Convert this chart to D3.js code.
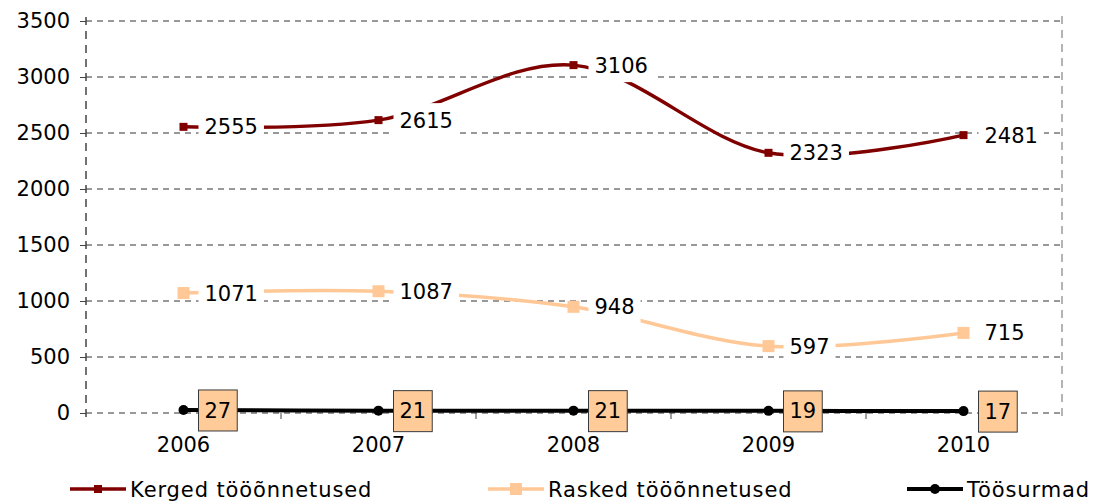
<!DOCTYPE html>
<html>
<head>
<meta charset="utf-8">
<script src="https://cdn.jsdelivr.net/npm/d3@7"></script>
<style>
    body { margin: 0; background: #fff; }
    svg text { font-family: "DejaVu Sans", Verdana, sans-serif; fill: #000; }
</style>
</head>
<body>
<svg id="chart" width="1097" height="501" viewBox="0 0 1097 501"></svg>
<script>
// Data
const years = ["2006", "2007", "2008", "2009", "2010"];
const kerged = [2555, 2615, 3106, 2323, 2481];
const rasked = [1071, 1087, 948, 597, 715];
const toosurmad = [27, 21, 21, 19, 17];
const yTicks = [0, 500, 1000, 1500, 2000, 2500, 3000, 3500];
const seriesNames = ["Kerged tööõnnetused", "Rasked tööõnnetused", "Töösurmad"];

const svg = d3.select("#chart");

const plotLeft = 86, plotRight = 1061, plotTop = 21, plotBottom = 413;
const fontSize = 21;

const x = d3.scaleBand().domain(years).range([plotLeft, plotRight]);
const y = d3.scaleLinear().domain([0, 3500]).range([plotBottom, plotTop]);
const cx = d => x(d) + x.bandwidth() / 2;

// Gridlines
svg.append("g").selectAll("line")
    .data(yTicks)
    .enter()
    .append("line")
    .attr("x1", plotLeft)
    .attr("x2", plotRight)
    .attr("y1", d => y(d))
    .attr("y2", d => y(d))
    .attr("stroke", "#333")
    .attr("stroke-width", 1)
    .attr("stroke-dasharray", "6,5");

// Right border (grey dashed)
svg.append("line")
    .attr("x1", plotRight + 1).attr("x2", plotRight + 1)
    .attr("y1", plotTop - 5).attr("y2", plotBottom + 5)
    .attr("stroke", "#b4b4b4")
    .attr("stroke-width", 2)
    .attr("stroke-dasharray", "8,6");

// Y axis
const yAxis = svg.append("g")
    .attr("transform", "translate(" + plotLeft + ",0)")
    .call(d3.axisLeft(y).tickValues(yTicks).tickSize(6).tickPadding(10).tickFormat(d3.format("d")));
yAxis.select(".domain")
    .attr("d", "M0," + (plotTop - 4) + "V" + (plotBottom + 6))
    .attr("stroke", "#444")
    .attr("stroke-width", 1.5)
    .attr("stroke-dasharray", "8,6");
yAxis.selectAll(".tick line").attr("stroke", "#444");
yAxis.selectAll("text")
    .style("font-size", fontSize + "px")
    .style("font-family", "DejaVu Sans, Verdana, sans-serif")
    .attr("fill", "#000");

// X axis category ticks (between categories)
const xBounds = years.map(d => x(d)).concat([plotRight]);
svg.append("g").selectAll("line")
    .data(xBounds.slice(1, -1))
    .enter()
    .append("line")
    .attr("x1", d => d).attr("x2", d => d)
    .attr("y1", plotBottom).attr("y2", plotBottom + 6)
    .attr("stroke", "#444");

svg.append("g").selectAll("text")
    .data(years)
    .enter()
    .append("text")
    .attr("x", d => cx(d))
    .attr("y", plotBottom + 39)
    .attr("text-anchor", "middle")
    .style("font-size", fontSize + "px")
    .text(d => d);

// Lines
const line = d3.line()
    .x(d => cx(d.year))
    .y(d => y(d.value))
    .curve(d3.curveCatmullRom.alpha(0));

const series = [
    { name: seriesNames[0], values: kerged, color: "#800000", marker: "square", size: 8, width: 3.5 },
    { name: seriesNames[1], values: rasked, color: "#ffc896", marker: "square", size: 12, width: 3.5 },
    { name: seriesNames[2], values: toosurmad, color: "#000000", marker: "circle", size: 10, width: 4 }
];
series.forEach(s => {
    s.points = years.map((yr, i) => ({ year: yr, value: s.values[i] }));
});

series.forEach(s => {
    svg.append("path")
        .datum(s.points)
        .attr("fill", "none")
        .attr("stroke", s.color)
        .attr("stroke-width", s.width)
        .attr("d", line);
});

function drawMarker(g, s, px, py) {
    if (s.marker === "square") {
        g.append("rect")
            .attr("x", px - s.size / 2)
            .attr("y", py - s.size / 2)
            .attr("width", s.size)
            .attr("height", s.size)
            .attr("fill", s.color);
    } else {
        g.append("circle")
            .attr("cx", px)
            .attr("cy", py)
            .attr("r", s.size / 2)
            .attr("fill", s.color);
    }
}

series.forEach(s => {
    const g = svg.append("g");
    s.points.forEach(p => drawMarker(g, s, cx(p.year), y(p.value)));
});

// Data labels
series.forEach((s, si) => {
    const g = svg.append("g");
    s.points.forEach(p => {
        const px = cx(p.year), py = y(p.value);
        const lg = g.append("g");
        const rect = lg.append("rect");
        const t = lg.append("text")
            .attr("x", px + 21)
            .attr("y", py)
            .attr("dy", "0.36em")
            .style("font-size", fontSize + "px")
            .text(p.value);
        const w = t.node().getComputedTextLength();
        if (si === 2) {
            rect.attr("x", px + 15)
                .attr("y", py - 20)
                .attr("width", w + 12)
                .attr("height", 41)
                .attr("fill", "#ffcc99")
                .attr("stroke", "#3a3a3a")
                .attr("stroke-width", 1);
        } else {
            rect.attr("x", px + 15)
                .attr("y", py - 17)
                .attr("width", w + 12)
                .attr("height", 34)
                .attr("fill", "#fff");
        }
    });
});

// Legend
const legendX = [70, 488, 907];
const legendY = 489;
series.forEach((s, i) => {
    const g = svg.append("g");
    g.append("line")
        .attr("x1", legendX[i])
        .attr("x2", legendX[i] + 56)
        .attr("y1", legendY)
        .attr("y2", legendY)
        .attr("stroke", s.color)
        .attr("stroke-width", s.width);
    drawMarker(g, s, legendX[i] + 28, legendY);
    g.append("text")
        .attr("x", legendX[i] + 60)
        .attr("y", legendY + 8)
        .style("font-size", fontSize + "px")
        .style("letter-spacing", "0.9px")
        .text(s.name);
});
</script>
</body>
</html>
